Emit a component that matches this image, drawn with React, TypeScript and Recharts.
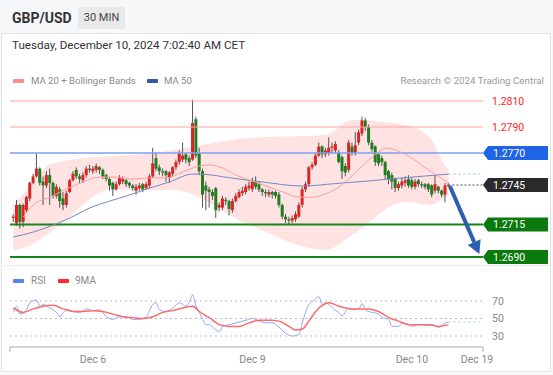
import React from "react";
import { ComposedChart, XAxis, YAxis, Bar, Line, Area, ReferenceLine } from "recharts";

// ---------- DATA ----------
const opens = [1.2720,1.2716,1.2730,1.2717,1.2726,1.2735,1.2747,1.2752,1.2758,1.2748,1.2745,1.2753,1.2747,1.2737,1.2742,1.2735,1.2730,1.2740,1.2749,1.2757,1.2752,1.2749,1.2753,1.2758,1.2756,1.2757,1.2759,1.2757,1.2753,1.2750,1.2747,1.2742,1.2746,1.2748,1.2749,1.2747,1.2745,1.2741,1.2743,1.2746,1.2743,1.2745,1.2752,1.2766,1.2759,1.2756,1.2756,1.2751,1.2754,1.2759,1.2763,1.2765,1.2769,1.2766,1.2765,1.2796,1.2770,1.2756,1.2745,1.2742,1.2740,1.2743,1.2728,1.2728,1.2734,1.2733,1.2726,1.2733,1.2736,1.2739,1.2740,1.2743,1.2742,1.2748,1.2746,1.2742,1.2740,1.2738,1.2740,1.2740,1.2738,1.2730,1.2721,1.2719,1.2718,1.2719,1.2721,1.2730,1.2742,1.2746,1.2759,1.2761,1.2768,1.2775,1.2769,1.2770,1.2774,1.2772,1.2770,1.2767,1.2760,1.2757,1.2775,1.2770,1.2778,1.2785,1.2795,1.2790,1.2778,1.2775,1.2769,1.2766,1.2763,1.2756,1.2753,1.2750,1.2743,1.2745,1.2747,1.2750,1.2749,1.2744,1.2749,1.2746,1.2746,1.2746,1.2745,1.2741,1.2744,1.2741,1.2738,1.2745];
const highs = [1.2723,1.2734,1.2731,1.2731,1.2737,1.2748,1.2754,1.2770,1.2759,1.2752,1.2756,1.2758,1.2748,1.2746,1.2744,1.2740,1.2741,1.2750,1.2756,1.2759,1.2754,1.2755,1.2760,1.2761,1.2760,1.2762,1.2760,1.2758,1.2754,1.2751,1.2748,1.2748,1.2753,1.2752,1.2750,1.2748,1.2746,1.2746,1.2747,1.2747,1.2748,1.2754,1.2774,1.2770,1.2761,1.2758,1.2757,1.2756,1.2760,1.2765,1.2772,1.2778,1.2770,1.2768,1.2811,1.2798,1.2774,1.2758,1.2748,1.2744,1.2742,1.2744,1.2732,1.2737,1.2736,1.2734,1.2735,1.2739,1.2742,1.2744,1.2746,1.2748,1.2751,1.2752,1.2748,1.2743,1.2742,1.2742,1.2741,1.2741,1.2740,1.2731,1.2723,1.2721,1.2722,1.2725,1.2732,1.2744,1.2748,1.2760,1.2763,1.2770,1.2778,1.2776,1.2774,1.2782,1.2778,1.2779,1.2772,1.2768,1.2762,1.2780,1.2778,1.2786,1.2788,1.2798,1.2797,1.2792,1.2780,1.2776,1.2770,1.2768,1.2764,1.2757,1.2755,1.2751,1.2748,1.2751,1.2752,1.2753,1.2751,1.2750,1.2750,1.2748,1.2747,1.2747,1.2746,1.2753,1.2745,1.2742,1.2747,1.2747];
const lows = [1.2717,1.2714,1.2712,1.2713,1.2724,1.2733,1.2746,1.2751,1.2745,1.2730,1.2743,1.2730,1.2735,1.2735,1.2728,1.2726,1.2728,1.2739,1.2748,1.2750,1.2747,1.2747,1.2751,1.2755,1.2754,1.2755,1.2754,1.2750,1.2748,1.2741,1.2737,1.2741,1.2745,1.2746,1.2744,1.2743,1.2741,1.2738,1.2741,1.2740,1.2742,1.2743,1.2751,1.2756,1.2753,1.2752,1.2748,1.2747,1.2752,1.2757,1.2761,1.2763,1.2762,1.2760,1.2764,1.2766,1.2753,1.2728,1.2726,1.2728,1.2734,1.2720,1.2725,1.2726,1.2730,1.2722,1.2724,1.2732,1.2735,1.2737,1.2738,1.2741,1.2740,1.2742,1.2740,1.2737,1.2736,1.2736,1.2735,1.2735,1.2728,1.2719,1.2716,1.2715,1.2716,1.2717,1.2720,1.2728,1.2740,1.2744,1.2757,1.2760,1.2767,1.2766,1.2767,1.2768,1.2770,1.2770,1.2762,1.2750,1.2752,1.2755,1.2768,1.2768,1.2776,1.2783,1.2787,1.2776,1.2771,1.2760,1.2760,1.2760,1.2750,1.2746,1.2742,1.2740,1.2741,1.2743,1.2744,1.2743,1.2742,1.2742,1.2744,1.2743,1.2742,1.2740,1.2736,1.2739,1.2739,1.2736,1.2732,1.2744];
const closes = [1.2721,1.2730,1.2717,1.2730,1.2736,1.2747,1.2752,1.2758,1.2747,1.2745,1.2753,1.2747,1.2737,1.2744,1.2733,1.2730,1.2739,1.2749,1.2754,1.2752,1.2750,1.2753,1.2758,1.2757,1.2758,1.2760,1.2757,1.2752,1.2750,1.2745,1.2742,1.2746,1.2751,1.2750,1.2746,1.2745,1.2743,1.2744,1.2745,1.2742,1.2746,1.2752,1.2762,1.2758,1.2756,1.2755,1.2753,1.2755,1.2759,1.2763,1.2770,1.2768,1.2765,1.2763,1.2793,1.2768,1.2756,1.2738,1.2741,1.2740,1.2737,1.2726,1.2730,1.2735,1.2733,1.2727,1.2733,1.2737,1.2740,1.2741,1.2744,1.2745,1.2748,1.2744,1.2742,1.2740,1.2739,1.2740,1.2738,1.2737,1.2730,1.2721,1.2719,1.2718,1.2720,1.2723,1.2730,1.2742,1.2746,1.2759,1.2761,1.2768,1.2775,1.2769,1.2772,1.2774,1.2775,1.2777,1.2763,1.2756,1.2755,1.2778,1.2770,1.2776,1.2786,1.2795,1.2790,1.2778,1.2773,1.2763,1.2762,1.2763,1.2753,1.2750,1.2748,1.2743,1.2746,1.2748,1.2749,1.2745,1.2744,1.2748,1.2746,1.2745,1.2744,1.2742,1.2738,1.2746,1.2741,1.2738,1.2745,1.27454];

// [candle index, value]
const ma20Pts: [number, number][] = [[3,1.27208],[6,1.2730],[11,1.2736],[16,1.27423],[21,1.27477],[26,1.27515],[31,1.27515],[36,1.2750],[41,1.27508],[46,1.27508],[51,1.27554],[56,1.2760],[59,1.27608],[63,1.27585],[67,1.2753],[72,1.27485],[77,1.27438],[82,1.27392],[86,1.2736],[90,1.2736],[94,1.27385],[98,1.27438],[102,1.27523],[106,1.27623],[110,1.27708],[112,1.27738],[115,1.27723],[120,1.2766],[125,1.2757],[131,1.2747]];
const ma50Pts: [number, number][] = [[0,1.27054],[6,1.27092],[12,1.27146],[17,1.2720],[23,1.27277],[29,1.2733],[35,1.27377],[41,1.2743],[47,1.27477],[54,1.27538],[58,1.27535],[65,1.2751],[75,1.27477],[87,1.27446],[97,1.27465],[107,1.27485],[117,1.27508],[131,1.27538]];
const bbUpperPts: [number, number][] = [[0,1.2730],[4,1.27415],[7,1.2757],[12,1.27623],[18,1.2766],[24,1.2767],[30,1.27677],[36,1.27685],[42,1.2770],[48,1.27723],[53,1.27738],[56,1.27815],[59,1.27877],[63,1.27892],[67,1.27877],[71,1.27815],[74,1.2766],[77,1.27554],[81,1.27523],[85,1.27523],[88,1.27569],[91,1.27723],[94,1.27838],[97,1.27915],[102,1.27954],[107,1.27954],[112,1.27923],[118,1.27915],[123,1.2790],[126,1.2780],[129,1.27646],[131,1.27569]];
const bbLowerPts: [number, number][] = [[0,1.26954],[4,1.26977],[8,1.27015],[12,1.27108],[16,1.27223],[20,1.27338],[23,1.27415],[30,1.27423],[36,1.27415],[42,1.27415],[48,1.27415],[52,1.2740],[55,1.2730],[58,1.2720],[62,1.27154],[66,1.2713],[71,1.27146],[75,1.2720],[78,1.27223],[82,1.27146],[86,1.27092],[90,1.26992],[94,1.26954],[98,1.26969],[102,1.2707],[106,1.27146],[110,1.27246],[114,1.2730],[118,1.27323],[122,1.27315],[126,1.2730],[129,1.27338],[131,1.27377]];

const rsiPts: [number, number][] = [[0,57],[1,64],[2,55],[4,60],[5,68],[7,71],[8,64],[9,66],[11,62],[13,57],[14,52],[15,57],[17,60],[18,58],[20,57],[22,61],[24,59],[26,60],[28,52],[30,49],[32,52],[34,52],[36,49],[38,49],[40,52],[42,66],[43,68],[44,60],[46,58],[48,62],[50,68],[52,64],[53,69],[54,77],[55,64],[56,57],[57,49],[58,43],[59,43],[61,37],[62,35],[63,41],[65,43],[67,45],[70,48],[72,50],[74,47],[76,45],[78,45],[80,40],[82,33],[84,30],[86,32],[87,45],[89,66],[90,69],[92,75],[93,66],[94,68],[95,66],[97,59],[98,57],[99,53],[101,62],[102,60],[104,61],[105,67],[106,60],[107,58],[110,55],[111,51],[113,49],[114,41],[116,41],[117,45],[119,43],[120,41],[122,43],[125,42],[126,43],[128,40],[130,45],[131,46]];
const rsiMaPts: [number, number][] = [[0,62],[3,57],[6,61],[9,64],[12,65],[15,61],[18,58],[21,58],[24,59],[27,58],[30,55],[33,52],[36,51],[39,50],[42,52],[45,57],[48,59],[51,62],[54,64],[56,58],[59,51],[62,43],[65,41],[68,41],[71,45],[74,48],[77,48],[80,47],[83,41],[85,37],[87,38],[89,47],[91,58],[93,65],[95,68],[98,64],[102,61],[104,61],[107,61],[110,58],[113,51],[116,47],[119,43],[122,43],[125,43],[128,41],[131,43]];

const levels = { r2: 1.2810, r1: 1.2790, pivot: 1.2770, last: 1.2745, s1: 1.2715, s2: 1.2690 };
const lastPrice = 1.27454;
const ma50Last = 1.27538;
const rsiLast = 46;
const arrowFrom = { x: 131.4, y: 1.27446 };
const arrowTo = { x: 140.3, y: 1.26923 };

const tickIdx = [24, 72, 120, 139.6];
const tickLabels = ["Dec 6", "Dec 9", "Dec 10", "Dec 19"];
const rsiLevels = [70, 50, 30];

// ---------- LAYOUT ----------
const XMIN = -1;
const XMAX = 141.4;
const RED = "#dd2424";
const GREEN = "#1f7d22";

const Candle = (props: any) => {
  const { x, y, width, height, payload } = props;
  if (payload == null || height == null) return null;
  const { o, h, l, c } = payload;
  const r = height / (h - l);
  const yO = y + (h - o) * r;
  const yC = y + (h - c) * r;
  const cx = x + width / 2;
  const top = Math.min(yO, yC);
  const bh = Math.max(1, Math.abs(yO - yC));
  return (
    <g>
      <line x1={cx} x2={cx} y1={y} y2={y + height} stroke="#555" strokeWidth={1} />
      <rect x={x} y={top} width={width} height={bh} fill={c >= o ? RED : GREEN} />
    </g>
  );
};

const PriceTag = (props: any) => {
  const { viewBox, text, bg, fg } = props;
  if (!viewBox) return null;
  const x = viewBox.x + viewBox.width;
  const y = viewBox.y;
  if (!bg) {
    return (
      <text x={x + 9} y={y} dy="0.35em" fill={fg} fontSize={10.5} fontFamily="Roboto, sans-serif">
        {text}
      </text>
    );
  }
  return (
    <g>
      <path d={`M${x} ${y} L${x + 5} ${y - 7} H${x + 65} V${y + 7} H${x + 5} Z`} fill={bg} />
      <text x={x + 10} y={y} dy="0.35em" fill="#fff" fontSize={10.5} fontFamily="Roboto, sans-serif">
        {text}
      </text>
    </g>
  );
};

const ArrowShape = (p: any) => {
  const { x1, y1, x2, y2 } = p;
  if (x1 == null) return null;
  const a = Math.atan2(y2 - y1, x2 - x1);
  const L = 13, Wd = 7;
  const bx = x2 - L * Math.cos(a);
  const by = y2 - L * Math.sin(a);
  const pts = `${x2},${y2} ${bx + Wd * Math.sin(a)},${by - Wd * Math.cos(a)} ${bx - Wd * Math.sin(a)},${by + Wd * Math.cos(a)}`;
  return (
    <g>
      <line x1={x1} y1={y1} x2={bx} y2={by} stroke="#2c5fae" strokeWidth={4} />
      <polygon points={pts} fill="#2c5fae" />
    </g>
  );
};

const DateTick = (props: any) => {
  const { x, y, payload } = props;
  const k = tickIdx.indexOf(payload.value);
  if (k < 0) return <line x1={x} x2={x} y1={y} y2={y + 5} stroke="#aaa" />;
  return (
    <text x={x} y={y + 12} textAnchor="middle" dominantBaseline="central" fill="#888" fontSize={10.5} fontFamily="Roboto, sans-serif">
      {tickLabels[k]}
    </text>
  );
};

export default function App() {
  const rows: any[] = opens.map((o, i) => ({
    i, o, h: highs[i], l: lows[i], c: closes[i],
    ma20: null, ma50: null, bbU: null, bbL: null,
  }));
  ma20Pts.forEach(([i, v]) => (rows[i].ma20 = v));
  ma50Pts.forEach(([i, v]) => (rows[i].ma50 = v));
  bbUpperPts.forEach(([i, v]) => (rows[i].bbU = v));
  bbLowerPts.forEach(([i, v]) => (rows[i].bbL = v));

  const rsiRows: any[] = opens.map((_, i) => ({ i, rsi: null, ma: null }));
  rsiPts.forEach(([i, v]) => (rsiRows[i].rsi = v));
  rsiMaPts.forEach(([i, v]) => (rsiRows[i].ma = v));

  const legendText: React.CSSProperties = { position: "absolute", fontSize: 9.6, color: "#8a8a8a", lineHeight: "12px", whiteSpace: "nowrap" };
  const swatch = (left: number, top: number, color: string): React.CSSProperties => ({ position: "absolute", left, top, width: 11, height: 4, background: color, borderRadius: 1 });

  return (
    <div style={{ position: "relative", width: 553, height: 375, background: "#f6f7f8", fontFamily: "Roboto, sans-serif", overflow: "hidden" }}>
      <style>{"body{margin:0}"}</style>
      <div style={{ position: "absolute", left: 1, top: 33, width: 550, height: 339, background: "#fff", border: "1px solid #e6e7e9", boxSizing: "border-box" }} />
      <div style={{ position: "absolute", left: 12, top: 9, fontSize: 14, fontWeight: 700, color: "#333", lineHeight: "18px" }}>GBP/USD</div>
      <div style={{ position: "absolute", left: 78, top: 7, width: 47, height: 22, background: "#e8e9ea", borderRadius: 2, fontSize: 11, color: "#444", lineHeight: "22px", textAlign: "center" }}>30 MIN</div>
      <div style={{ position: "absolute", left: 12, top: 38, fontSize: 11.6, color: "#333", lineHeight: "14px", whiteSpace: "nowrap" }}>Tuesday, December 10, 2024 7:02:40 AM CET</div>

      <div style={swatch(13, 79, "#ff8a8a")} />
      <div style={{ ...legendText, left: 31, top: 75 }}>MA 20 + Bollinger Bands</div>
      <div style={swatch(147, 79, "#2f5aa8")} />
      <div style={{ ...legendText, left: 164, top: 75 }}>MA 50</div>
      <div style={{ ...legendText, right: 9, top: 75, color: "#9a9a9a", fontSize: 9.8 }}>Research © 2024 Trading Central</div>

      <div style={{ position: "absolute", left: 3, top: 265, width: 547, borderTop: "1px dotted #dcdcdc" }} />

      <div style={{ position: "absolute", left: 0, top: 0 }}>
        <ComposedChart width={553} height={280} data={rows} margin={{ top: 75, right: 70, bottom: 10, left: 10 }}>
          <XAxis type="number" dataKey="i" domain={[XMIN, XMAX]} hide allowDataOverflow />
          <YAxis type="number" domain={[1.268, 1.283]} hide allowDataOverflow />
          <Area
            dataKey={(d: any) => [d.bbL, d.bbU]}
            type="monotone"
            connectNulls
            stroke="none"
            fill="#ffe2e2"
            fillOpacity={1}
            isAnimationActive={false}
          />
          <ReferenceLine y={levels.r2} stroke="#ffa3a3" strokeWidth={1} label={<PriceTag text="1.2810" fg="#ff1f1f" />} />
          <ReferenceLine y={levels.r1} stroke="#ffa3a3" strokeWidth={1} label={<PriceTag text="1.2790" fg="#ff1f1f" />} />
          <ReferenceLine y={levels.pivot} stroke="#7aa0f5" strokeWidth={1.5} label={<PriceTag text="1.2770" bg="#1f63e6" />} />
          <ReferenceLine y={levels.s1} stroke="#15861a" strokeWidth={2} label={<PriceTag text="1.2715" bg="#0b7a0e" />} />
          <ReferenceLine y={levels.s2} stroke="#15861a" strokeWidth={2} label={<PriceTag text="1.2690" bg="#0b7a0e" />} />
          <ReferenceLine
            segment={[{ x: 131, y: lastPrice }, { x: XMAX, y: lastPrice }]}
            stroke="#555"
            strokeDasharray="2 2"
            label={<PriceTag text="1.2745" bg="#2a2a2a" />}
          />
          <ReferenceLine segment={[{ x: 131, y: ma50Last }, { x: XMAX, y: ma50Last }]} stroke="#9fb3e0" strokeDasharray="2 3" />
          <Line dataKey="ma50" type="monotone" connectNulls stroke="#7089c6" strokeWidth={1} dot={false} isAnimationActive={false} />
          <Line dataKey="ma20" type="monotone" connectNulls stroke="#ff9c9c" strokeWidth={1} dot={false} isAnimationActive={false} />
          <Bar dataKey={(d: any) => [d.l, d.h]} barSize={3} shape={<Candle />} isAnimationActive={false} />
          <ReferenceLine segment={[arrowFrom, arrowTo]} shape={(p: any) => <ArrowShape {...p} />} />
        </ComposedChart>
      </div>

      <div style={swatch(13, 279, "#5b82e8")} />
      <div style={{ ...legendText, left: 31, top: 275, fontSize: 10 }}>RSI</div>
      <div style={swatch(58, 279, "#ff2a2a")} />
      <div style={{ ...legendText, left: 75, top: 275, fontSize: 10 }}>9MA</div>

      <div style={{ position: "absolute", left: 0, top: 270 }}>
        <ComposedChart width={553} height={105} data={rsiRows} margin={{ top: 20, right: 70, bottom: 0, left: 10 }}>
          <XAxis
            type="number"
            dataKey="i"
            domain={[XMIN, XMAX]}
            allowDataOverflow
            ticks={[XMIN, ...tickIdx, XMAX]}
            interval={0}
            height={28}
            tickLine={false}
            tickSize={0}
            tickMargin={0}
            axisLine={{ stroke: "#aaa" }}
            tick={<DateTick />}
          />
          <YAxis type="number" domain={[17.43, 82.57]} hide allowDataOverflow />
          {rsiLevels.map((v) => (
            <ReferenceLine key={v} y={v} stroke="#bdbdbd" strokeDasharray="2 3" label={<PriceTag text={String(v)} fg="#888" />} />
          ))}
          <ReferenceLine segment={[{ x: 131, y: rsiLast }, { x: XMAX, y: rsiLast }]} stroke="#a9bdf0" strokeDasharray="2 3" />
          <Line dataKey="rsi" type="monotone" connectNulls stroke="#90a9ee" strokeWidth={1} dot={false} isAnimationActive={false} />
          <Line dataKey="ma" type="monotone" connectNulls stroke="#ff6a6a" strokeWidth={1.5} dot={false} isAnimationActive={false} />
        </ComposedChart>
      </div>
    </div>
  );
}
